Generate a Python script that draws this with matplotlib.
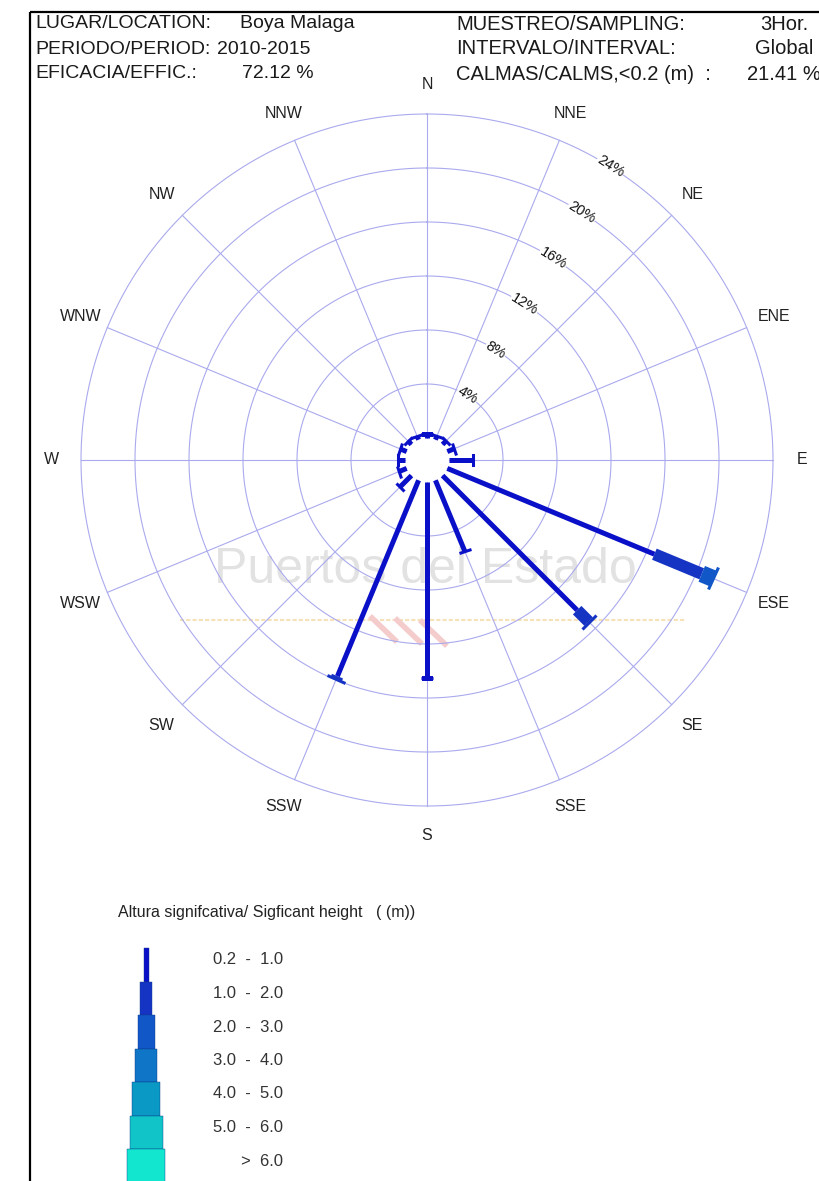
import numpy as np
import matplotlib.pyplot as plt
from matplotlib.markers import MarkerStyle
from matplotlib.transforms import Affine2D

W, H = 819, 1181  # figure size in pixels (dpi 100)

# ------------------ Data ------------------
directions = ['N', 'NNE', 'NE', 'ENE', 'E', 'ESE', 'SE', 'SSE',
              'S', 'SSW', 'SW', 'WSW', 'W', 'WNW', 'NW', 'NNW']
dir_deg = np.arange(16) * 22.5

height_classes = ['0.2  -  1.0', '1.0  -  2.0', '2.0  -  3.0', '3.0  -  4.0',
                  '4.0  -  5.0', '5.0  -  6.0', '>  6.0']

# frequency (%) per direction, one list per height class
hs_02_10 = [0.3, 0.3, 0.4, 0.5, 1.8, 16.6, 14.1, 5.7, 14.5, 15.7, 1.2, 0.6, 0.5, 0.5, 0.4, 0.3]
hs_10_20 = [0, 0, 0, 0, 0, 3.8, 1.2, 0, 0, 0.2, 0, 0, 0, 0, 0, 0]
hs_20_30 = [0, 0, 0, 0, 0, 0.9, 0, 0, 0, 0, 0, 0, 0, 0, 0, 0]
hs_30_40 = [0] * 16
hs_40_50 = [0] * 16
hs_50_60 = [0] * 16
hs_gt_60 = [0] * 16
freqs = [hs_02_10, hs_10_20, hs_20_30, hs_30_40, hs_40_50, hs_50_60, hs_gt_60]

ring_pct = [4, 8, 12, 16, 20, 24]

info_left = [('LUGAR/LOCATION:', 'Boya Malaga'),
             ('PERIODO/PERIOD:', '2010-2015'),
             ('EFICACIA/EFFIC.:', '72.12 %')]
info_right = [('MUESTREO/SAMPLING:', '3Hor.'),
              ('INTERVALO/INTERVAL:', 'Global'),
              ('CALMAS/CALMS,<0.2 (m)  :', '21.41 %')]

# ------------------ Style ------------------
colors = ['#0a10c8', '#1634c4', '#1157c8', '#0f75c6', '#0a98c4', '#10c4c8', '#12e6cf']
bar_px = [5, 12, 17, 22, 28, 33, 38]
grid_c = '#aaaaee'
hole = 1.63          # radius of the empty centre (in % units)
px_per_unit = 13.5
R = 27.0
cx, cy = 427, 460

plt.rcParams['font.family'] = ['Liberation Sans', 'DejaVu Sans']

fig = plt.figure(figsize=(W / 100, H / 100), dpi=100)
fig.patch.set_facecolor('white')

# -------- overlay axes in pixel units (header, legend, frame) --------
ov = fig.add_axes([0, 0, 1, 1], zorder=0)
ov.set_xlim(0, W)
ov.set_ylim(H, 0)
ov.axis('off')

ov.plot([30, 30], [12, H], color='black', lw=1.6, solid_capstyle='butt')
ov.plot([30, W], [12, 12], color='black', lw=1.6, solid_capstyle='butt')

left_val_x = [240, 217, 242]
for i, (lab, val) in enumerate(info_left):
    y = 24 + i * 25
    ov.text(35, y, lab, fontsize=14, va='center', color='#1a1a1a')
    ov.text(left_val_x[i], y, val, fontsize=14, va='center', color='#1a1a1a')
right_val_x = [760, 755, 747]
for i, (lab, val) in enumerate(info_right):
    y = 24 + i * 25
    ov.text(456, y, lab, fontsize=14.5, va='center', color='#1a1a1a')
    ov.text(right_val_x[i], y, val, fontsize=14.5, va='center', color='#1a1a1a')

# watermark
ov.text(425, 570, 'Puertos del Estado', fontsize=36, color='#e2e2e2',
        ha='center', va='center', zorder=0)
ov.plot([180, 685], [620, 620], color='#f6e2b8', lw=1.5, ls=(0, (2, 1)), zorder=0)
for k in range(3):
    ov.plot([372 + k * 25, 395 + k * 25], [618 + k * 2, 640 + k * 2],
            color='#f4cccc', lw=4, zorder=0)

# legend
ov.text(118, 912, 'Altura signifcativa/ Sigficant height   ( (m))', fontsize=11.5,
        va='center', color='#222222')
seg_top = 948
for k, lab in enumerate(height_classes):
    ov.bar(146, 33.5, bottom=seg_top + k * 33.5, width=bar_px[k], color=colors[k],
           edgecolor='#0a3a8a', linewidth=0.3)
    ov.text(283, seg_top + 12 + k * 33.5, lab, fontsize=12, ha='right', va='center',
            color='#333333')

# -------- polar rose --------
ax = fig.add_axes([(cx - R * px_per_unit) / W, (H - cy - R * px_per_unit) / H,
                   2 * R * px_per_unit / W, 2 * R * px_per_unit / H],
                  projection='polar', zorder=1)
ax.set_theta_zero_location('N')
ax.set_theta_direction(-1)
ax.set_ylim(0, R)
ax.axis('off')
ax.patch.set_alpha(0)

theta = np.linspace(0, 2 * np.pi, 500)
for p in ring_pct:
    ax.plot(theta, np.full_like(theta, hole + p), color=grid_c, lw=0.8)
for d in dir_deg:
    ax.plot([np.radians(d)] * 2, [hole, hole + ring_pct[-1]], color=grid_c, lw=0.8)

# ring labels
for p in ring_pct:
    ax.text(np.radians(32), hole + p, f'{p}%', rotation=-32, fontsize=10.5,
            ha='center', va='center', color='#111111',
            bbox=dict(facecolor='white', edgecolor='none', pad=0.5))

# direction labels
for d, name in zip(dir_deg, directions):
    ax.text(np.radians(d), 27.8, name, fontsize=11.5, ha='center', va='center',
            color='#222222', clip_on=False)

# bars
for i, d in enumerate(dir_deg):
    th = np.radians(d)
    r0 = hole
    last = 0
    for k in range(len(freqs)):
        v = freqs[k][i]
        if v <= 0:
            continue
        ax.plot([th, th], [r0, r0 + v], color=colors[k], lw=bar_px[k] * 0.72,
                solid_capstyle='butt', zorder=3)
        r0 += v
        last = k
    cap = MarkerStyle('_', transform=Affine2D().rotate_deg(-d))
    ax.plot([th], [r0], marker=cap, markersize=(bar_px[last] + 7) * 0.72,
            markeredgewidth=2.2, color=colors[last], zorder=4)

fig.savefig('out.png', dpi=100)
